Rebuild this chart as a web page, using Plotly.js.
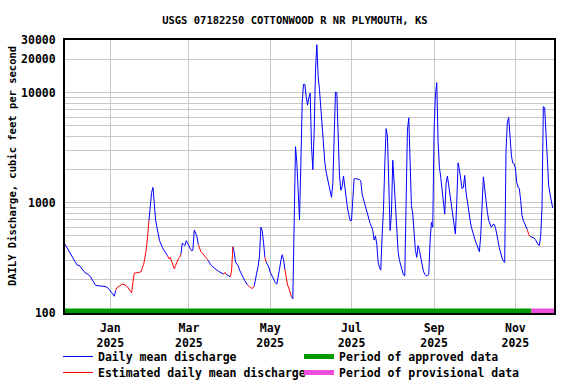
<!DOCTYPE html>
<html>
<head>
<meta charset="utf-8">
<script src="https://cdn.plot.ly/plotly-3.0.1.min.js"></script>
<style>html,body{margin:0;padding:0;background:#fff;}#chart{width:576px;height:384px;}</style>
</head>
<body>
<div id="chart"></div>
<script>
var dates = ['2024-11-28','2024-11-29','2024-12-01','2024-12-03','2024-12-05','2024-12-07','2024-12-09','2024-12-11','2024-12-13','2024-12-15','2024-12-17','2024-12-19','2024-12-21','2024-12-24','2024-12-28','2024-12-30',
'2025-01-01','2025-01-02','2025-01-04','2025-01-05','2025-01-06','2025-01-08','2025-01-10','2025-01-12','2025-01-14','2025-01-16','2025-01-17','2025-01-18','2025-01-19','2025-01-22','2025-01-24','2025-01-25','2025-01-26','2025-01-27','2025-01-28','2025-01-29','2025-01-30','2025-01-31',
'2025-02-01','2025-02-02','2025-02-03','2025-02-04','2025-02-05','2025-02-06','2025-02-07','2025-02-09','2025-02-11','2025-02-12','2025-02-13','2025-02-14','2025-02-15','2025-02-16','2025-02-17','2025-02-18','2025-02-19','2025-02-20','2025-02-21','2025-02-22','2025-02-23','2025-02-24','2025-02-25','2025-02-26','2025-02-27','2025-02-28',
'2025-03-01','2025-03-02','2025-03-03','2025-03-04','2025-03-05','2025-03-06','2025-03-07','2025-03-08','2025-03-09','2025-03-10','2025-03-11','2025-03-12','2025-03-13','2025-03-14','2025-03-15','2025-03-16','2025-03-17','2025-03-18','2025-03-19','2025-03-20','2025-03-21','2025-03-22','2025-03-23','2025-03-24','2025-03-25','2025-03-26','2025-03-27','2025-03-28','2025-03-29','2025-03-30','2025-03-31',
'2025-04-01','2025-04-02','2025-04-03','2025-04-04','2025-04-05','2025-04-06','2025-04-07','2025-04-08','2025-04-09','2025-04-10','2025-04-11','2025-04-12','2025-04-13','2025-04-14','2025-04-15','2025-04-16','2025-04-17','2025-04-18','2025-04-19','2025-04-20','2025-04-21','2025-04-22','2025-04-23','2025-04-24','2025-04-25','2025-04-26','2025-04-27','2025-04-28','2025-04-29','2025-04-30',
'2025-05-01','2025-05-02','2025-05-03','2025-05-04','2025-05-05','2025-05-06','2025-05-07','2025-05-08','2025-05-09','2025-05-10','2025-05-11','2025-05-12','2025-05-13','2025-05-14','2025-05-15','2025-05-16','2025-05-17','2025-05-18','2025-05-19','2025-05-20','2025-05-21','2025-05-22','2025-05-23','2025-05-24','2025-05-25','2025-05-26','2025-05-27','2025-05-28','2025-05-29','2025-05-30','2025-05-31',
'2025-06-01','2025-06-02','2025-06-03','2025-06-04','2025-06-05','2025-06-06','2025-06-07','2025-06-08','2025-06-09','2025-06-10','2025-06-11','2025-06-12','2025-06-13','2025-06-14','2025-06-15','2025-06-16','2025-06-17','2025-06-18','2025-06-19','2025-06-20','2025-06-21','2025-06-22','2025-06-23','2025-06-24','2025-06-25','2025-06-26','2025-06-27','2025-06-28','2025-06-29','2025-06-30',
'2025-07-01','2025-07-02','2025-07-03','2025-07-04','2025-07-05','2025-07-06','2025-07-07','2025-07-08','2025-07-09','2025-07-10','2025-07-11','2025-07-12','2025-07-13','2025-07-14','2025-07-15','2025-07-16','2025-07-17','2025-07-18','2025-07-19','2025-07-20','2025-07-21','2025-07-22','2025-07-23','2025-07-24','2025-07-25','2025-07-26','2025-07-27','2025-07-28','2025-07-29','2025-07-30','2025-07-31',
'2025-08-01','2025-08-02','2025-08-03','2025-08-04','2025-08-05','2025-08-06','2025-08-07','2025-08-08','2025-08-09','2025-08-10','2025-08-11','2025-08-12','2025-08-13','2025-08-14','2025-08-15','2025-08-16','2025-08-17','2025-08-18','2025-08-19','2025-08-20','2025-08-21','2025-08-22','2025-08-23','2025-08-24','2025-08-25','2025-08-26','2025-08-27','2025-08-28','2025-08-29','2025-08-30','2025-08-31',
'2025-09-01','2025-09-02','2025-09-03','2025-09-04','2025-09-05','2025-09-06','2025-09-07','2025-09-08','2025-09-09','2025-09-10','2025-09-11','2025-09-12','2025-09-13','2025-09-14','2025-09-15','2025-09-16','2025-09-17','2025-09-18','2025-09-19','2025-09-20','2025-09-21','2025-09-22','2025-09-23','2025-09-24','2025-09-25','2025-09-26','2025-09-27','2025-09-28','2025-09-29','2025-09-30',
'2025-10-01','2025-10-02','2025-10-03','2025-10-04','2025-10-05','2025-10-06','2025-10-07','2025-10-08','2025-10-09','2025-10-10','2025-10-11','2025-10-12','2025-10-13','2025-10-14','2025-10-15','2025-10-16','2025-10-17','2025-10-18','2025-10-19','2025-10-20','2025-10-21','2025-10-22','2025-10-23','2025-10-24','2025-10-25','2025-10-26','2025-10-27','2025-10-28','2025-10-29','2025-10-30','2025-10-31',
'2025-11-01','2025-11-02','2025-11-03','2025-11-04','2025-11-05','2025-11-06','2025-11-07','2025-11-08','2025-11-09','2025-11-10','2025-11-11','2025-11-12','2025-11-13','2025-11-14','2025-11-15','2025-11-16','2025-11-17','2025-11-18','2025-11-19','2025-11-20','2025-11-21','2025-11-22','2025-11-23','2025-11-24','2025-11-25','2025-11-26','2025-11-27','2025-11-28','2025-11-29'];

var flow = [420,400,365,330,300,273,268,252,232,225,215,195,178,176,174,170,
160,153,142,160,170,176,183,180,172,158,153,190,230,233,236,255,275,320,380,500,690,900,
1240,1380,900,700,600,500,453,394,354,345,330,310,320,298,275,252,270,295,310,320,340,430,420,410,453,425,
410,385,367,372,566,530,495,420,381,360,350,338,330,318,305,295,279,268,263,259,252,245,240,236,230,225,225,233,225,220,215,
213,240,400,354,290,275,268,245,230,218,205,196,187,180,174,170,168,168,175,210,235,265,331,600,560,438,320,290,275,260,
235,220,205,195,187,183,210,250,300,338,305,250,200,180,168,150,140,135,665,3230,2330,1240,700,2200,8000,11900,11900,9200,7700,9000,9900,
3300,2000,4400,16000,27200,14000,10600,7000,5000,3700,2330,1900,1650,1400,1240,1120,1500,4700,10100,10000,3300,1770,1300,1400,1750,1340,1050,900,780,690,
690,1200,1650,1660,1650,1640,1620,1580,1200,1080,975,880,790,700,650,610,560,460,500,420,290,260,245,500,850,2200,4700,4000,1300,560,800,
2430,1540,851,500,360,300,275,241,222,217,1500,4560,5900,2200,945,790,503,370,320,408,370,320,260,240,225,218,217,225,450,665,600,
4560,9500,12300,3570,2100,1700,1250,950,790,1500,1750,1430,1150,980,715,600,520,1000,2300,2000,1540,1340,1380,1770,1240,1000,850,700,600,540,
500,450,420,390,360,503,1000,1720,1340,975,820,690,630,600,630,640,600,500,453,390,345,315,295,288,3000,5400,5950,3800,2700,2300,2270,
2070,1540,1390,1340,1050,766,690,650,610,570,515,495,490,487,480,465,440,418,410,503,900,7450,7300,3800,2000,1450,1200,1030,900];

// Estimated-value periods (first and last estimated day)
var estStart = ['2025-01-06','2025-02-14','2025-03-09','2025-03-28','2025-04-02','2025-04-15','2025-04-28','2025-05-13','2025-11-11'];
var estEnd   = ['2025-01-30','2025-02-23','2025-03-15','2025-03-29','2025-04-03','2025-04-19','2025-04-28','2025-05-17','2025-11-12'];

// Data-status periods
var periodStart = '2024-11-28';
var provisionalStart = '2025-11-13';
var periodEnd = '2025-11-30';
var statusFloor = 100;

var tickDates = ['2025-01-01','2025-03-01','2025-05-01','2025-07-01','2025-09-01','2025-11-01'];
var tickText = ['Jan<br>2025','Mar<br>2025','May<br>2025','Jul<br>2025','Sep<br>2025','Nov<br>2025'];
var yTicks = [100,1000,10000,20000,30000];
var yTickText = ['100','1000','10000','20000','30000'];
var yMinor = [200,300,400,500,600,700,800,900,2000,3000,4000,5000,6000,7000,8000,9000];

function isEst(d){
  for (var k=0;k<estStart.length;k++){ if (d>=estStart[k] && d<=estEnd[k]) return true; }
  return false;
}
var est = dates.map(isEst);

// split the daily series into blue (measured) and red (estimated) polylines, segment by segment
function buildSeries(wantRed){
  var X = [], Y = [], last = -2;
  for (var s = 0; s < dates.length - 1; s++){
    var red = est[s+1];
    if (red !== wantRed) continue;
    if (last === s){ X.push(dates[s+1]); Y.push(flow[s+1]); }
    else {
      if (X.length){ X.push(null); Y.push(null); }
      X.push(dates[s], dates[s+1]); Y.push(flow[s], flow[s+1]);
    }
    last = s + 1;
  }
  return {x:X, y:Y};
}
var blue = buildSeries(false), red = buildSeries(true);

var FONT = 'DejaVu Sans Mono, monospace';
var LFONT = {family:FONT, size:11.5, color:'#000', weight:'bold'};
var traces = [
  {x:blue.x, y:blue.y, type:'scatter', mode:'lines', name:'Daily mean discharge', line:{color:'#0000ff', width:1}, showlegend:false, connectgaps:false, hoverinfo:'skip'},
  {x:red.x, y:red.y, type:'scatter', mode:'lines', name:'Estimated daily mean discharge', line:{color:'#ff0000', width:1}, showlegend:false, connectgaps:false, hoverinfo:'skip'},
  {x:[periodStart, provisionalStart], y:[statusFloor,statusFloor], type:'scatter', mode:'lines', line:{color:'#009900', width:9}, showlegend:false, hoverinfo:'skip'},
  {x:[provisionalStart, periodEnd], y:[statusFloor,statusFloor], type:'scatter', mode:'lines', line:{color:'#ee4ddd', width:9}, showlegend:false, hoverinfo:'skip'},
  // legend entries (row 1 in legend, row 2 in legend2)
  {x:[null], y:[null], type:'scatter', mode:'lines', name:'Daily mean discharge', line:{color:'#0000ff', width:1}, legend:'legend'},
  {x:[null], y:[null], type:'scatter', mode:'lines', name:'Period of approved data', line:{color:'#009900', width:5}, legend:'legend'},
  {x:[null], y:[null], type:'scatter', mode:'lines', name:'Estimated daily mean discharge', line:{color:'#ff0000', width:1}, legend:'legend2'},
  {x:[null], y:[null], type:'scatter', mode:'lines', name:'Period of provisional data', line:{color:'#ee4ddd', width:5}, legend:'legend2'}
];

var grid = '#c8c8c8';
var layout = {
  width:576, height:384,
  margin:{l:65, r:22, t:40, b:71, pad:0, autoexpand:false},
  paper_bgcolor:'#ffffff', plot_bgcolor:'#ffffff',
  font:{family:FONT, size:11.5, color:'#000', weight:'bold'},
  title:{text:'USGS 07182250 COTTONWOOD R NR PLYMOUTH, KS', font:{family:FONT, size:10.5, color:'#000', weight:'bold'}, xref:'container', x:0.512, xanchor:'center', yref:'container', y:0.948, yanchor:'middle'},
  xaxis:{type:'date', range:[periodStart, periodEnd], tickmode:'array', tickvals:tickDates, ticktext:tickText,
    showgrid:true, gridcolor:grid, gridwidth:1, zeroline:false, showline:true, linecolor:'#000', linewidth:2, mirror:true,
    ticks:'outside', ticklen:3, tickcolor:'rgba(0,0,0,0)', tickfont:{family:FONT, size:11.5, color:'#000', weight:'bold'}, fixedrange:true},
  yaxis:{type:'log', range:[2, Math.log10(30000)], tickmode:'array', tickvals:yTicks, ticktext:yTickText,
    showgrid:true, gridcolor:grid, gridwidth:1, zeroline:false, showline:true, linecolor:'#000', linewidth:2, mirror:true,
    ticks:'outside', ticklen:5, tickcolor:'rgba(0,0,0,0)', tickfont:{family:FONT, size:11.5, color:'#000', weight:'bold'},
    minor:{tickmode:'array', tickvals:yMinor, showgrid:true, gridcolor:grid, gridwidth:1, ticks:''}, fixedrange:true},
  annotations:[{text:'DAILY Discharge, cubic feet per second', textangle:-90, xref:'paper', yref:'paper', x:-0.1084, y:0.538, xanchor:'center', yanchor:'middle', showarrow:false, font:{family:FONT, size:10.5, color:'#000', weight:'bold'}}],
  showlegend:true,
  legend:{orientation:'h', x:-0.0143, xanchor:'left', y:-0.1062, yanchor:'top', entrywidth:196, entrywidthmode:'pixels', traceorder:'normal', font:LFONT, bgcolor:'rgba(0,0,0,0)', borderwidth:0, itemwidth:30},
  legend2:{orientation:'h', x:-0.0143, xanchor:'left', y:-0.1648, yanchor:'top', entrywidth:196, entrywidthmode:'pixels', traceorder:'normal', font:LFONT, bgcolor:'rgba(0,0,0,0)', borderwidth:0, itemwidth:30}
};

Plotly.newPlot('chart', traces, layout, {staticPlot:true, displayModeBar:false});
</script>
</body>
</html>
